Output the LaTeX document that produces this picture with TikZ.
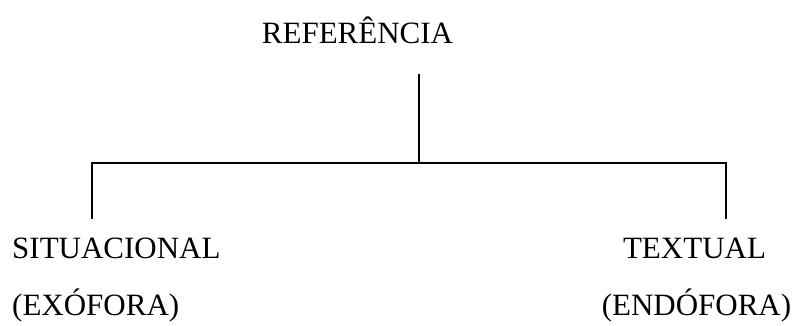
\documentclass[tikz,border=0pt]{standalone}
\usepackage{fontspec}
\setmainfont{Liberation Serif}
\usepackage{tikz}
\usetikzlibrary{positioning}

\tikzset{
  lbl/.style={font=\fontsize{31}{37}\selectfont, inner sep=0pt},
  branch/.style={line width=1.6pt}
}

\begin{document}
\begin{tikzpicture}[x=1pt, y=-1pt]
  \useasboundingbox (0,0) rectangle (799,325);

  % Root label
  \node[lbl, anchor=base] (ref) at (357.5,43) {REFERÊNCIA};

  % Branch points
  \coordinate (top) at (419,74);
  \coordinate (mid) at (419,163);
  \coordinate (left) at (92,163);
  \coordinate (right) at (726,163);
  \coordinate (leftend) at (92,219);
  \coordinate (rightend) at (726,219);

  % Tree lines
  \draw[branch] (top) -- (mid);
  \draw[branch] (leftend) -- (left) -- (right) -- (rightend);

  % Left leaf
  \node[lbl, anchor=base west] (sit) at (12,258) {SITUACIONAL};
  \node[lbl, anchor=base west] (exo) at (12,315) {(EXÓFORA)};

  % Right leaf
  \node[lbl, anchor=base] (txt) at (694.5,258) {TEXTUAL};
  \node[lbl, anchor=base] (endo) at (696.5,315) {(ENDÓFORA)};
\end{tikzpicture}
\end{document}
